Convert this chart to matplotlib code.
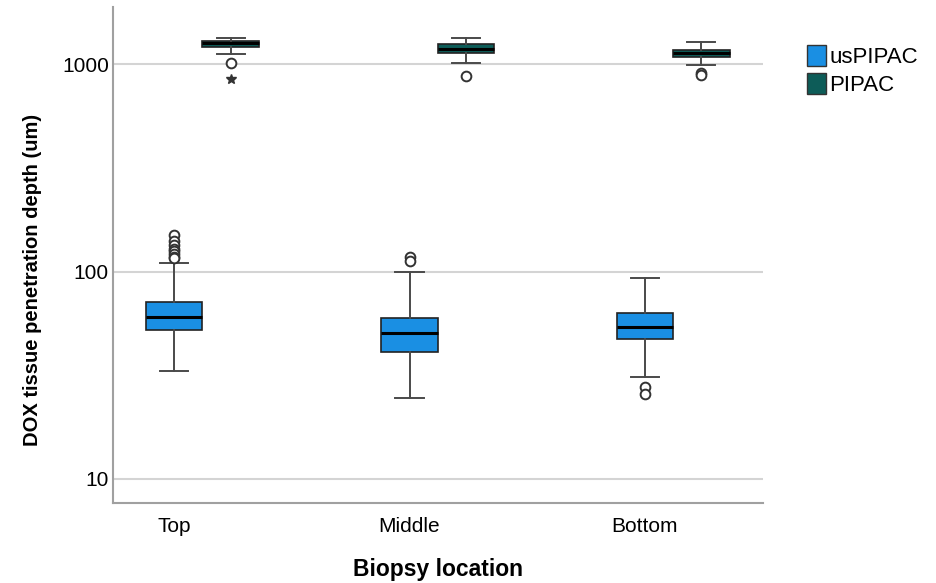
import numpy as np
import matplotlib.pyplot as plt
from matplotlib.patches import Patch

# Biopsy locations on the x axis
locations = ["Top", "Middle", "Bottom"]
groups = ["usPIPAC", "PIPAC"]

# Box summaries (um): lower whisker, Q1, median, Q3, upper whisker
us_whislo = [33.2, 24.5, 31.0]
us_q1 = [52.2, 40.9, 47.1]
us_med = [60.4, 50.4, 53.8]
us_q3 = [71.3, 59.5, 62.9]
us_whishi = [110, 99, 92.7]
us_outliers = [[150, 140, 134, 129, 125, 121, 118, 116],
               [118, 112],
               [27.8, 25.7]]

p_whislo = [1114, 1008, 989]
p_q1 = [1203, 1126, 1084]
p_med = [1258, 1181, 1126]
p_q3 = [1295, 1249, 1168]
p_whishi = [1339, 1329, 1276]
p_outliers = [[1008], [878], [905, 885]]
p_extremes = [[844], [], []]

colors = {"usPIPAC": "#1a8fe3", "PIPAC": "#0d5c58"}

plt.rcParams['font.family'] = ['Liberation Sans', 'DejaVu Sans']

fig = plt.figure(figsize=(9.36, 5.83), dpi=100)
ax = fig.add_axes([0.1207, 0.137, 0.694, 0.851])

pos = np.arange(len(locations))
offset = 0.24
width = 0.24


def make_stats(lo, q1, med, q3, hi, fl):
    return [dict(whislo=a, q1=b, med=c, q3=d, whishi=e, fliers=f)
            for a, b, c, d, e, f in zip(lo, q1, med, q3, hi, fl)]


box_kw = dict(widths=width, patch_artist=True, showfliers=True,
              medianprops=dict(color="black", linewidth=2.2),
              whiskerprops=dict(color="#4a4a4a", linewidth=1.4),
              capprops=dict(color="#4a4a4a", linewidth=1.4),
              flierprops=dict(marker="o", markersize=7, markerfacecolor="white",
                              markeredgecolor="#333333", markeredgewidth=1.4),
              boxprops=dict(edgecolor="#222222", linewidth=1.2))

us_stats = make_stats(us_whislo, us_q1, us_med, us_q3, us_whishi, us_outliers)
p_stats = make_stats(p_whislo, p_q1, p_med, p_q3, p_whishi, p_outliers)

b1 = ax.bxp(us_stats, positions=pos, **box_kw)
b2 = ax.bxp(p_stats, positions=pos + offset, **box_kw)
for patch in b1["boxes"]:
    patch.set_facecolor(colors["usPIPAC"])
for patch in b2["boxes"]:
    patch.set_facecolor(colors["PIPAC"])

# extreme values are drawn as stars
for i, ext in enumerate(p_extremes):
    if ext:
        ax.plot([pos[i] + offset] * len(ext), ext, linestyle="none", marker="*",
                markersize=7, color="#333333")

ax.set_yscale("log")
ax.set_ylim(7.65, 1885)
ax.set_xlim(-0.26, 2.50)
ax.set_yticks([10, 100, 1000])
ax.set_yticklabels(["10", "100", "1000"])
ax.minorticks_off()
ax.set_xticks(pos)
ax.set_xticklabels(locations)
ax.tick_params(axis="both", length=0, labelsize=15, pad=3)
ax.tick_params(axis="x", pad=10)

ax.grid(axis="y", color="#d4d4d4", linewidth=1.5)
ax.set_axisbelow(True)
for side in ["top", "right"]:
    ax.spines[side].set_visible(False)
for side in ["left", "bottom"]:
    ax.spines[side].set_color("#a0a0a0")
    ax.spines[side].set_linewidth(1.5)

ax.set_ylabel("DOX tissue penetration depth (um)", fontsize=14.5, fontweight="bold")
ax.yaxis.set_label_coords(-0.11, 0.45)
ax.set_xlabel("Biopsy location", fontsize=16.5, fontweight="bold", labelpad=16)

handles = [Patch(facecolor=colors[g], edgecolor="#333333", label=g) for g in groups]
fig.legend(handles=handles, loc="upper left", bbox_to_anchor=(0.853, 0.938),
           frameon=False, fontsize=16, handlelength=0.85, handleheight=1.1,
           handletextpad=0.15, labelspacing=0.2, borderaxespad=0)

fig.savefig("out.png", dpi=100)
